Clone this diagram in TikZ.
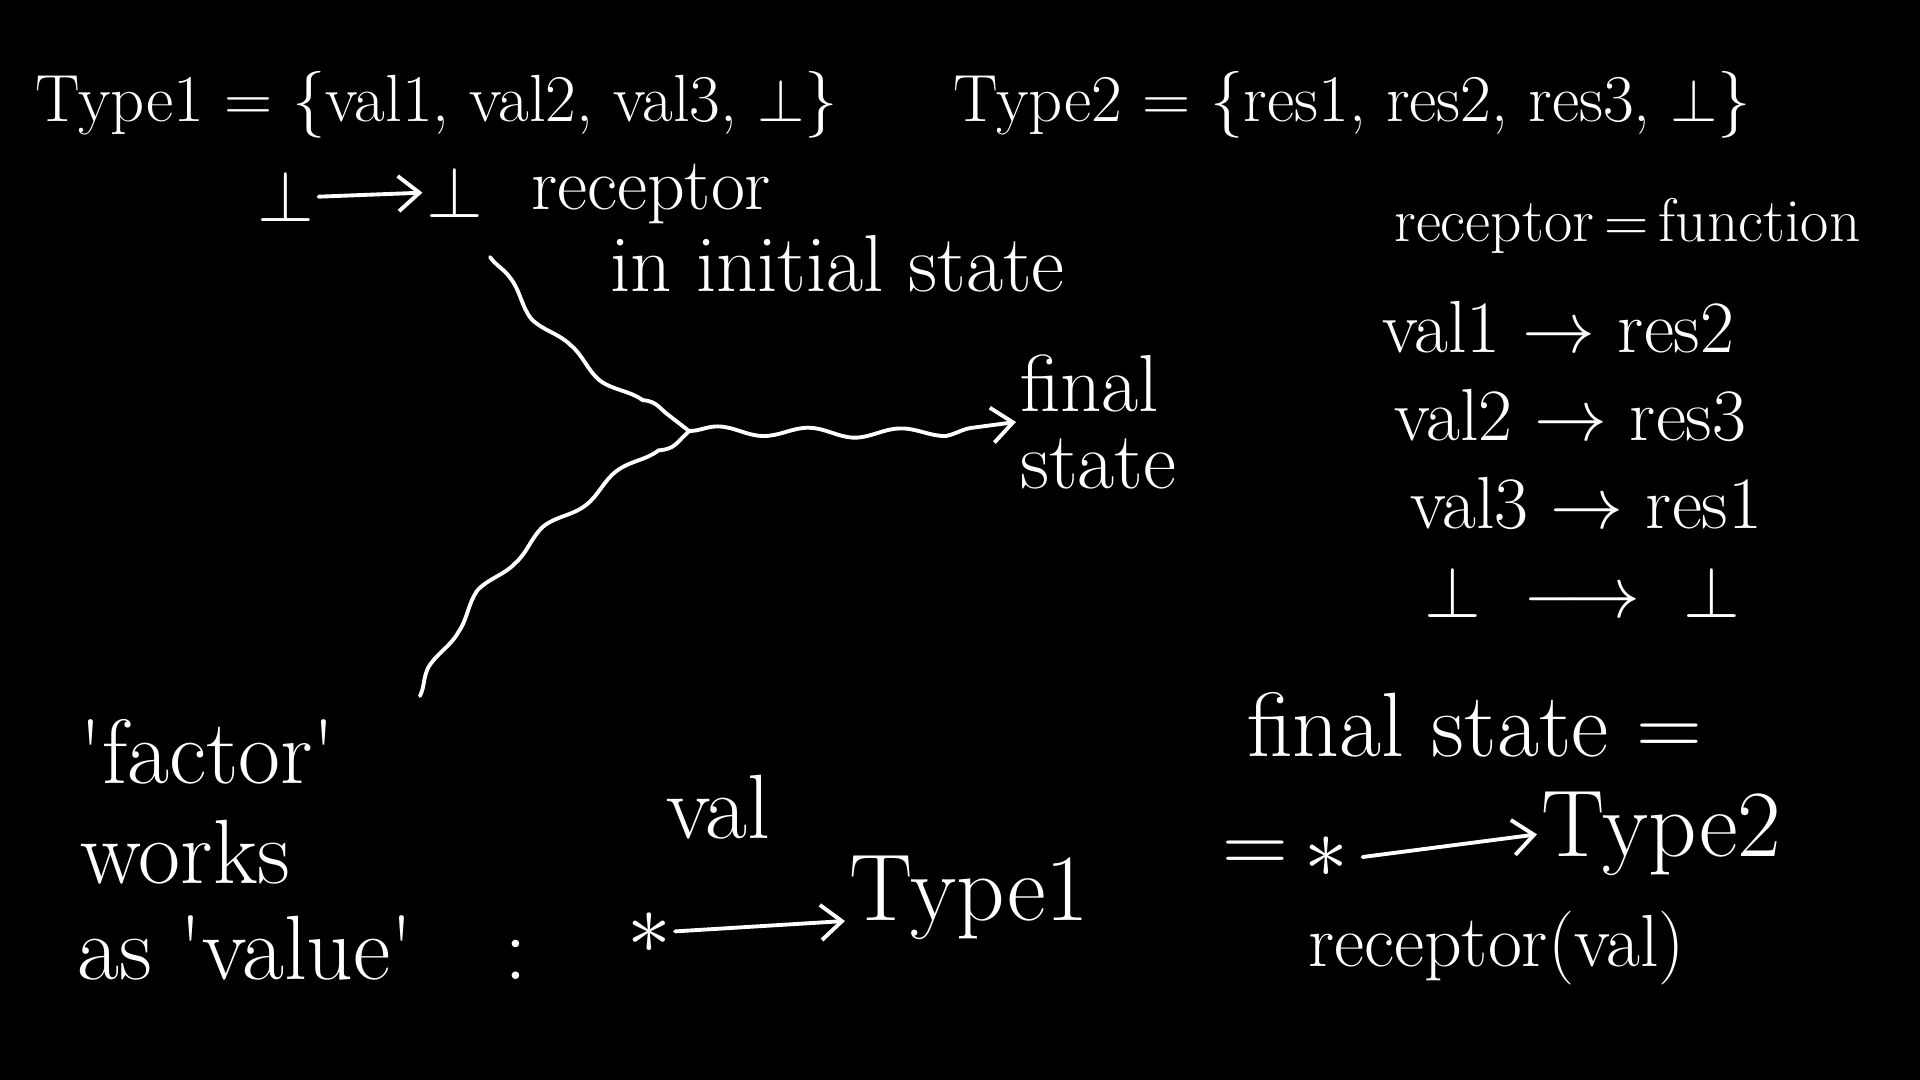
\documentclass[tikz,border=0pt]{standalone}
\usepackage{fontspec}
\usetikzlibrary{arrows.meta,decorations.pathmorphing}

\begin{document}
\begin{tikzpicture}[
    hand/.style={text=white, inner sep=1pt, anchor=base west,
        font=\fontsize{21}{25}\selectfont},
    handsm/.style={hand, font=\fontsize{19}{23}\selectfont},
    handbig/.style={hand, font=\fontsize{26}{29}\selectfont},
    chalk/.style={draw=white, line width=1.1pt, line cap=round},
    tip/.style={-{Straight Barb[length=6pt, width=10pt]}},
    wavy/.style={chalk, decorate,
        decoration={snake, amplitude=1.3pt, segment length=26pt}}
]
    \path[use as bounding box, fill=black] (0,0) rectangle (19.2,10.8);
    \node[handsm] (typea) at (0.31,9.58) {Type1 = \{val1, val2, val3, $\bot$\}};
    \node[handsm] (typeb) at (9.49,9.58) {Type2 = \{res1, res2, res3, $\bot$\}};
    \node[hand, anchor=base] (bota) at (2.86,8.58) {$\bot$};
    \node[hand, anchor=base] (botb) at (4.55,8.62) {$\bot$};
    \node[hand] (recep) at (5.27,8.70) {receptor};
    \node[hand, font=\fontsize{23}{26}\selectfont] (initst) at (6.06,7.88) {in initial state};
    \node[hand, anchor=west, align=left, font=\fontsize{23}{22}\selectfont] (finst) at (10.16,6.58) {final\\state};
    \coordinate (upstart) at (4.90,8.23);
    \coordinate (lowstart) at (4.20,3.84);
    \coordinate (merge) at (6.89,6.49);
    \draw[chalk, tip] (bota.east) -- (botb.west);
    \draw[wavy] (upstart) to[out=-55, in=142] (merge);
    \draw[wavy] (lowstart) to[out=65, in=-138] (merge);
    \draw[wavy, tip, decoration={post length=6pt}] (merge) to[out=0, in=188] (finst.west);
    \node[hand, font=\fontsize{17.5}{21}\selectfont] (rfun) at (13.90,8.38) {receptor\,=\,function};
    \node[hand] (rowa) at (13.78,7.27) {val1 $\to$ res2};
    \node[hand] (rowb) at (13.90,6.39) {val2 $\to$ res3};
    \node[hand] (rowc) at (14.06,5.51) {val3 $\to$ res1};
    \node[hand] (rowd) at (14.20,4.62) {$\bot\ \longrightarrow\ \bot$};
    \node[handbig] (factor) at (0.75,2.96) {\textquotesingle factor\textquotesingle};
    \node[handbig] (works) at (0.76,1.96) {works};
    \node[handbig] (asval) at (0.73,1.00) {as \textquotesingle value\textquotesingle\quad:};
    \node[hand, anchor=center, font=\fontsize{30}{30}\selectfont] (asta) at (6.49,1.47) {$\ast$};
    \node[handbig] (vallab) at (6.62,2.41) {val};
    \node[hand, font=\fontsize{27}{30}\selectfont] (typec) at (8.45,1.59) {Type1};
    \draw[chalk, tip] (asta) -- (typec.base west);
    \node[handbig] (fseq) at (12.43,3.23) {final state =};
    \node[handbig, anchor=center] (eqb) at (12.55,2.23) {=};
    \node[hand, anchor=center, font=\fontsize{30}{30}\selectfont] (astb) at (13.26,2.23) {$\ast$};
    \node[hand, font=\fontsize{27}{30}\selectfont] (typed) at (15.37,2.23) {Type2};
    \draw[chalk, tip] ([xshift=3pt]astb.east) -- (typed.west);
    \node[hand] (recval) at (13.04,1.13) {receptor(val)};
\end{tikzpicture}
\end{document}
